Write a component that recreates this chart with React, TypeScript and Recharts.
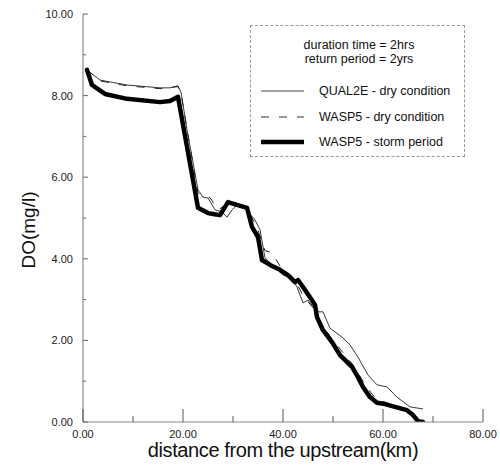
import React from "react";
import { LineChart, Line, XAxis, YAxis } from "recharts";

// QUAL2E - dry condition (thin solid)
const qualX = [0.8, 3.4, 8.8, 15.4, 17.4, 19.0, 19.6, 20.8, 23.0, 24.0, 25.0, 26.4, 27.8, 28.8, 29.8, 30.8, 32.4, 34.4, 35.4, 36.4, 40.0, 41.8, 42.8, 44.0, 45.0, 46.8, 48.0, 49.4, 51.8, 53.4, 55.0, 57.0, 58.8, 60.8, 62.8, 65.4, 68.0];
const qualY = [8.63, 8.38, 8.26, 8.19, 8.19, 8.24, 8.09, 7.16, 5.69, 5.51, 5.49, 5.2, 5.15, 5.02, 5.2, 5.32, 5.25, 4.95, 4.71, 4.02, 3.6, 3.53, 3.31, 2.92, 2.99, 2.7, 2.7, 2.3, 2.08, 1.89, 1.59, 1.15, 0.91, 0.86, 0.61, 0.37, 0.32];

// WASP5 - dry condition (dashed)
const waspDryX = [0.8, 3.4, 8.8, 15.4, 19.0, 19.6, 23.0, 25.4, 27.0, 29.0, 31.0, 33.0, 35.0, 36.4, 37.8, 40.0, 42.5, 44.0, 46.0, 48.0, 50.0, 52.0, 54.0, 56.0, 58.0, 60.0, 62.4, 65.0, 67.0];
const waspDryY = [8.63, 8.36, 8.24, 8.17, 8.22, 8.05, 5.6, 5.5, 5.2, 5.35, 5.3, 5.2, 4.7, 4.2, 4.15, 3.7, 3.45, 3.1, 2.8, 2.35, 2.0, 1.7, 1.4, 1.0, 0.65, 0.5, 0.4, 0.3, 0.1];

// WASP5 - storm period (thick)
const stormX = [0.8, 1.8, 4.4, 8.8, 15.4, 17.4, 19.0, 23.0, 25.0, 26.0, 27.4, 29.0, 30.8, 32.8, 33.8, 35.0, 35.8, 37.4, 39.4, 41.0, 42.4, 43.0, 44.0, 45.4, 46.4, 46.8, 48.0, 49.8, 51.4, 53.8, 55.0, 56.0, 57.4, 58.8, 60.4, 62.4, 64.8, 66.0, 67.0, 68.0];
const stormY = [8.63, 8.26, 8.04, 7.92, 7.84, 7.87, 7.97, 5.25, 5.12, 5.1, 5.07, 5.39, 5.32, 5.25, 4.78, 4.53, 3.97, 3.85, 3.73, 3.6, 3.43, 3.48, 3.31, 3.06, 2.87, 2.57, 2.25, 1.96, 1.64, 1.35, 1.1, 0.86, 0.61, 0.47, 0.44, 0.37, 0.29, 0.17, 0.02, 0.0];

const xTicks = [0, 10, 20, 30, 40, 50, 60, 70, 80];
const yTicks = [0, 1, 2, 3, 4, 5, 6, 7, 8, 9, 10];

const legendNotes = ["duration time = 2hrs", "return period = 2yrs"];
const legendItems = ["QUAL2E - dry condition", "WASP5 - dry condition", "WASP5 - storm period"];

const toData = (xs: number[], ys: number[]) => xs.map((x, i) => ({ x, y: ys[i] }));
const qualData = toData(qualX, qualY);
const waspDryData = toData(waspDryX, waspDryY);
const stormData = toData(stormX, stormY);

const FONT = "'Liberation Sans', Arial, sans-serif";

const YTick = (props: any) => {
  const { x, y, payload } = props;
  const v = payload.value as number;
  const major = v % 2 === 0;
  return (
    <g>
      <line x1={x} x2={x + (major ? 5 : 3)} y1={y} y2={y} stroke="#666" strokeWidth={1} />
      {major && (
        <text x={x - 10} y={y} dy={4} textAnchor="end" fontSize={11} fontFamily={FONT} fill="#222">
          {v.toFixed(2)}
        </text>
      )}
    </g>
  );
};

const XTick = (props: any) => {
  const { x, y, payload } = props;
  const v = payload.value as number;
  const major = v % 20 === 0;
  return (
    <g>
      <line x1={x} x2={x} y1={y} y2={y - (major ? 13 : 6)} stroke="#555" strokeWidth={1} />
      {major && (
        <text x={x} y={y} dy={16} textAnchor="middle" fontSize={11} fontFamily={FONT} fill="#222">
          {v.toFixed(2)}
        </text>
      )}
    </g>
  );
};

export default function App() {
  return (
    <div style={{ position: "absolute", left: 0, top: 0, width: 500, height: 470, background: "#fff" }}>
      <LineChart width={500} height={470} margin={{ top: 14, right: 17, left: 0, bottom: 0 }}>
        <XAxis
          dataKey="x"
          type="number"
          domain={[0, 80]}
          ticks={xTicks}
          height={48}
          tickSize={0}
          tickMargin={0}
          tick={<XTick />}
          axisLine={{ stroke: "#888", strokeWidth: 1 }}
          tickLine={false}
          interval={0}
          allowDataOverflow
        />
        <YAxis
          dataKey="y"
          type="number"
          domain={[0, 10]}
          ticks={yTicks}
          width={83}
          tickSize={0}
          tickMargin={0}
          tick={<YTick />}
          axisLine={{ stroke: "#777", strokeWidth: 1 }}
          tickLine={false}
          interval={0}
          allowDataOverflow
        />
        <Line
          data={qualData}
          dataKey="y"
          type="linear"
          stroke="#222"
          strokeWidth={0.9}
          dot={false}
          isAnimationActive={false}
        />
        <Line
          data={waspDryData}
          dataKey="y"
          type="linear"
          stroke="#222"
          strokeWidth={1}
          strokeDasharray="8 10"
          dot={false}
          isAnimationActive={false}
        />
        <Line
          data={stormData}
          dataKey="y"
          type="linear"
          stroke="#000"
          strokeWidth={4.5}
          strokeLinejoin="round"
          strokeLinecap="round"
          dot={false}
          isAnimationActive={false}
        />
      </LineChart>
      {/* axis titles */}
      <div
        style={{
          position: "absolute",
          left: 83,
          width: 400,
          top: 440,
          height: 20,
          lineHeight: "20px",
          textAlign: "center",
          fontFamily: FONT,
          fontSize: 20,
          letterSpacing: -0.4,
          color: "#111",
          whiteSpace: "nowrap",
        }}
      >
        distance from the upstream(km)
      </div>
      <div
        style={{
          position: "absolute",
          left: 29,
          top: 230,
          transform: "translate(-50%, -50%) rotate(-90deg)",
          fontFamily: FONT,
          fontSize: 19,
          color: "#111",
          whiteSpace: "nowrap",
        }}
      >
        DO(mg/l)
      </div>
      {/* legend */}
      <div
        style={{
          position: "absolute",
          left: 250,
          top: 25,
          width: 213,
          height: 130,
          border: "1px dashed #999",
          fontFamily: FONT,
          fontSize: 12.5,
          color: "#111",
        }}
      >
        <div style={{ position: "absolute", left: 0, width: 216, top: 12, textAlign: "center", lineHeight: "14px" }}>
          {legendNotes.map((t) => (
            <div key={t}>{t}</div>
          ))}
        </div>
        {legendItems.map((t, i) => (
          <div key={t} style={{ position: "absolute", left: 10, top: 57 + i * 25.5, height: 16, display: "flex", alignItems: "center" }}>
            <svg width={44} height={16} style={{ display: "block" }}>
              {i === 0 && <line x1={0} x2={43} y1={8} y2={8} stroke="#444" strokeWidth={1} />}
              {i === 1 && <line x1={0} x2={43} y1={8} y2={8} stroke="#333" strokeWidth={1} strokeDasharray="8 10" />}
              {i === 2 && <line x1={0} x2={43} y1={8} y2={8} stroke="#000" strokeWidth={4.5} />}
            </svg>
            <span style={{ marginLeft: 14, whiteSpace: "nowrap" }}>{t}</span>
          </div>
        ))}
      </div>
    </div>
  );
}
